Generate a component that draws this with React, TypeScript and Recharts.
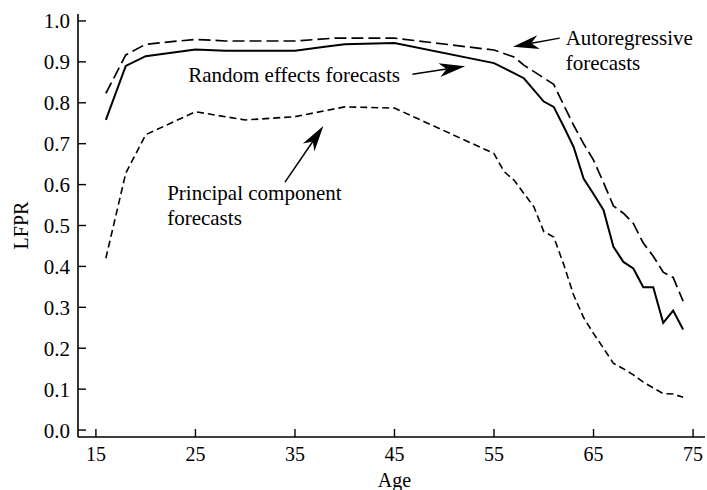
import React from 'react';
import { LineChart, Line, XAxis, YAxis, ReferenceLine, ReferenceDot } from 'recharts';

const FONT = '"Liberation Serif", "Times New Roman", Times, serif';

// Tick labels
const xTicks = [15, 25, 35, 45, 55, 65, 75];
const yTicks = [0, 0.1, 0.2, 0.3, 0.4, 0.5, 0.6, 0.7, 0.8, 0.9, 1.0];

// Random effects forecasts (solid)
const reAges = [16, 18, 20, 25, 28, 35, 38, 40, 45, 55, 58, 60, 61, 62, 63, 64, 65, 66, 67, 68, 69, 70, 71, 72, 73, 74];
const reValues = [0.758, 0.89, 0.914, 0.93, 0.927, 0.927, 0.937, 0.943, 0.946, 0.897, 0.86, 0.803, 0.79, 0.742, 0.692, 0.615, 0.577, 0.538, 0.448, 0.411, 0.395, 0.349, 0.349, 0.262, 0.292, 0.246];

// Autoregressive forecasts (long dash)
const arAges = [16, 18, 20, 25, 28, 35, 39, 45, 55, 57, 58, 61, 62, 63, 64, 65, 66, 67, 68, 69, 70, 71, 72, 73, 74];
const arValues = [0.823, 0.917, 0.943, 0.955, 0.951, 0.951, 0.958, 0.958, 0.929, 0.912, 0.892, 0.845, 0.795, 0.745, 0.7, 0.66, 0.605, 0.548, 0.53, 0.505, 0.457, 0.425, 0.386, 0.373, 0.315];

// Principal component forecasts (short dash)
const pcAges = [16, 18, 20, 25, 30, 35, 40, 45, 55, 56, 57, 59, 60, 61, 62, 63, 64, 65, 66, 67, 68, 69, 70, 71, 72, 73, 74];
const pcValues = [0.42, 0.628, 0.722, 0.778, 0.758, 0.766, 0.79, 0.787, 0.676, 0.632, 0.611, 0.546, 0.485, 0.472, 0.405, 0.33, 0.275, 0.236, 0.2, 0.163, 0.15, 0.135, 0.117, 0.103, 0.089, 0.088, 0.08];

// Annotation texts (left x in age, baseline in LFPR)
const noteLines = ['Random effects forecasts', 'Autoregressive', 'forecasts', 'Principal component', 'forecasts'];
const noteAges = [24.27, 62.2, 62.2, 22.16, 22.16];
const noteValues = [0.851, 0.941, 0.88, 0.562, 0.501];

// Arrows (tail -> tip) in data coordinates
const arrowTailAges = [46.8, 61.6, 34.0];
const arrowTailValues = [0.87, 0.958, 0.606];
const arrowTipAges = [52.1, 56.9, 37.85];
const arrowTipValues = [0.889, 0.937, 0.743];

const toData = (ages: number[], values: number[]) => ages.map((a, i) => ({ age: a, value: values[i] }));
const reData = toData(reAges, reValues);
const arData = toData(arAges, arValues);
const pcData = toData(pcAges, pcValues);

const arrowShape = (p: any) => {
  const { x1, y1, x2, y2 } = p;
  const dx = x2 - x1;
  const dy = y2 - y1;
  const len = Math.hypot(dx, dy) || 1;
  const ux = dx / len;
  const uy = dy / len;
  const px = -uy;
  const py = ux;
  const L = 26;
  const W = 7;
  const N = 0.72;
  const bx = x2 - ux * L;
  const by = y2 - uy * L;
  const nx = x2 - ux * L * N;
  const ny = y2 - uy * L * N;
  return (
    <g>
      <line x1={x1} y1={y1} x2={nx} y2={ny} stroke="#000" strokeWidth={1.5} />
      <polygon
        points={`${x2},${y2} ${bx + px * W},${by + py * W} ${nx},${ny} ${bx - px * W},${by - py * W}`}
        fill="#000"
      />
    </g>
  );
};

const textShape = (txt: string) => (p: any) => (
  <text x={p.cx} y={p.cy} fontFamily={FONT} fontSize={21} fill="#000">
    {txt}
  </text>
);

const XTick = (p: any) => (
  <text x={p.x} y={p.y} dy="0.71em" textAnchor="middle" fontFamily={FONT} fontSize={20} fill="#000">
    {p.payload.value}
  </text>
);

const YTick = (p: any) => (
  <text x={p.x} y={p.y} dy="0.355em" textAnchor="end" fontFamily={FONT} fontSize={21} fill="#000">
    {Number(p.payload.value).toFixed(1)}
  </text>
);

export default function App() {
  return (
    <div style={{ position: 'absolute', left: 0, top: 0, background: '#fff', fontFamily: FONT }}>
      <LineChart
        width={707}
        height={490}
        margin={{ top: 14, right: 2, bottom: 0, left: 0 }}
        style={{ fontFamily: FONT }}
      >
        <XAxis
          type="number"
          dataKey="age"
          domain={[13.2, 76.2]}
          allowDataOverflow
          ticks={xTicks}
          interval={0}
          height={53}
          tickSize={-8}
          tickMargin={18}
          axisLine={{ stroke: '#000', strokeWidth: 1.6 }}
          tickLine={{ stroke: '#000', strokeWidth: 1.4 }}
          tick={XTick}
          label={(props: any) => {
            const vb = props.viewBox || { x: 78, y: 437, width: 627 };
            return (
              <text x={vb.x + vb.width / 2 + 3} y={vb.y + 50} textAnchor="middle" fontFamily={FONT} fontSize={20} fill="#000">
                Age
              </text>
            );
          }}
        />
        <YAxis
          type="number"
          domain={[-0.017, 1.017]}
          allowDataOverflow
          ticks={yTicks}
          interval={0}
          width={78}
          tickSize={-8}
          tickMargin={16}
          axisLine={{ stroke: '#000', strokeWidth: 1.6 }}
          tickLine={{ stroke: '#000', strokeWidth: 1.4 }}
          tick={YTick}
          label={(props: any) => {
            const vb = props.viewBox || { x: 0, y: 14, height: 423 };
            const cx = vb.x + 21;
            const cy = vb.y + vb.height / 2;
            return (
              <text x={cx} y={cy} textAnchor="middle" dominantBaseline="central" transform={`rotate(-90 ${cx} ${cy})`} fontFamily={FONT} fontSize={20} fill="#000">
                LFPR
              </text>
            );
          }}
        />
        <Line data={pcData} dataKey="value" stroke="#000" strokeWidth={1.6} strokeDasharray="7 4" dot={false} isAnimationActive={false} />
        <Line data={arData} dataKey="value" stroke="#000" strokeWidth={1.7} strokeDasharray="12 5" dot={false} isAnimationActive={false} />
        <Line data={reData} dataKey="value" stroke="#000" strokeWidth={2} dot={false} isAnimationActive={false} />
        {arrowTailAges.map((a, i) => (
          <ReferenceLine
            key={`arrow-${i}`}
            segment={[
              { x: a, y: arrowTailValues[i] },
              { x: arrowTipAges[i], y: arrowTipValues[i] },
            ]}
            shape={arrowShape}
          />
        ))}
        {noteLines.map((t, i) => (
          <ReferenceDot key={`note-${i}`} x={noteAges[i]} y={noteValues[i]} r={0} shape={textShape(t)} />
        ))}
      </LineChart>
    </div>
  );
}
